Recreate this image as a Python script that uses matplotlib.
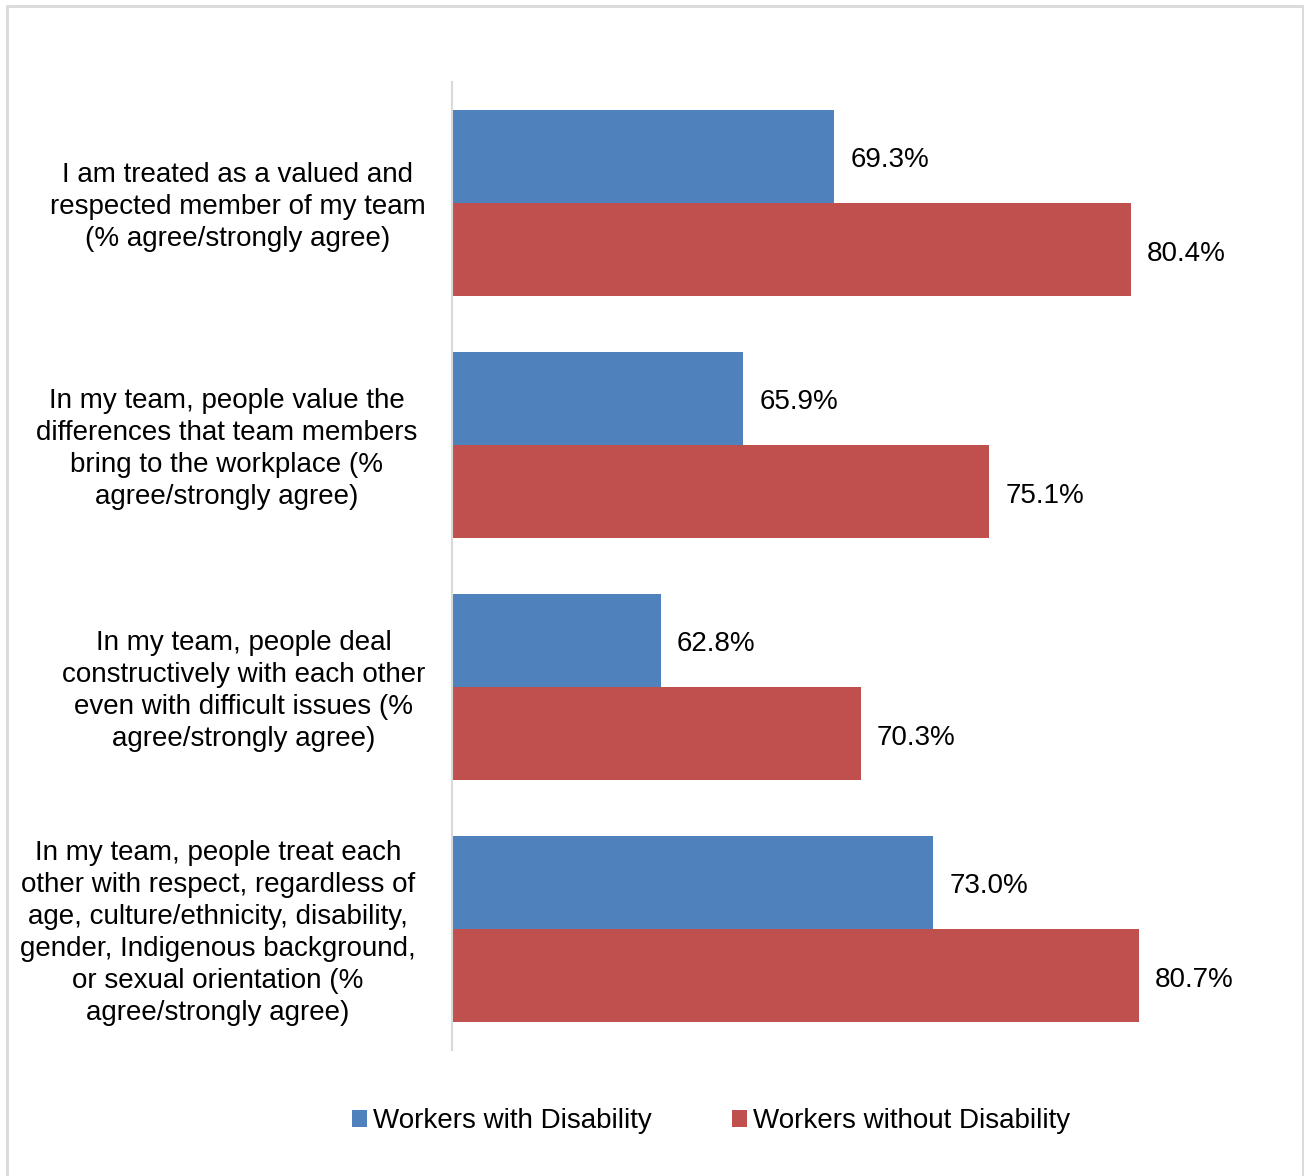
import matplotlib
matplotlib.use("Agg")
import matplotlib.pyplot as plt
from matplotlib.patches import Rectangle, Patch
import numpy as np

categories = [
    "I am treated as a valued and\nrespected member of my team\n(% agree/strongly agree)",
    "In my team, people value the\ndifferences that team members\nbring to the workplace (%\nagree/strongly agree)",
    "In my team, people deal\nconstructively with each other\neven with difficult issues (%\nagree/strongly agree)",
    "In my team, people treat each\nother with respect, regardless of\nage, culture/ethnicity, disability,\ngender, Indigenous background,\nor sexual orientation (%\nagree/strongly agree)",
]
series_names = ["Workers with Disability", "Workers without Disability"]
with_disability = [69.3, 65.9, 62.8, 73.0]
without_disability = [80.4, 75.1, 70.3, 80.7]
colors = ["#4F81BD", "#C0504D"]
# horizontal centres (pixels) of each wrapped category label
label_centres_px = [237.5, 226.5, 243.5, 218]

plt.rcParams['font.family'] = ['Liberation Sans', 'DejaVu Sans']

W, H = 1304, 1176
fig = plt.figure(figsize=(W / 100, H / 100), dpi=100)

# figure border
fig.patches.append(Rectangle((7 / W, -0.01), (1303 - 7) / W, 1 - 6 / H + 0.01,
                             transform=fig.transFigure, fill=False,
                             edgecolor="#d9d9d9", linewidth=2))

left, right = 452 / W, 1254 / W
top, bottom = 1 - 82 / H, 1 - 1050 / H
ax = fig.add_axes([left, bottom, right - left, top - bottom])

y = np.arange(len(categories))
h = 0.385
b1 = ax.barh(y - h / 2, with_disability, height=h, left=0, color=colors[0], label=series_names[0])
b2 = ax.barh(y + h / 2, without_disability, height=h, left=0, color=colors[1], label=series_names[1])

ax.set_xlim(55, 85)
ax.set_ylim(len(categories) - 0.5, -0.5)

for bars, vals in ((b1, with_disability), (b2, without_disability)):
    for rect, v in zip(bars, vals):
        ax.annotate(f"{v:.1f}%", xy=(v, rect.get_y() + rect.get_height() / 2),
                    xytext=(16, -1), textcoords="offset pixels",
                    ha="left", va="center_baseline", fontsize=20, color="black")

for s in ["top", "right", "bottom"]:
    ax.spines[s].set_visible(False)
ax.spines["left"].set_color("#d9d9d9")
ax.spines["left"].set_linewidth(1.5)
ax.set_xticks([])
ax.set_yticks([])

# category labels
for yi, lab, xc in zip(y, categories, label_centres_px):
    yfig = fig.transFigure.inverted().transform(ax.transData.transform((55, yi)))[1]
    fig.text(xc / W, yfig - 4 / H, lab, ha="center", va="center", fontsize=20,
             linespacing=1.31, multialignment="center")

handles = [Patch(facecolor=colors[0]), Patch(facecolor=colors[1])]
fig.legend(handles, series_names, loc="center", bbox_to_anchor=(711 / W, 1 - 1121 / H),
           ncol=2, frameon=False, fontsize=20, handlelength=0.55, handleheight=0.55,
           handletextpad=0.2, columnspacing=2.9)

fig.savefig("out.png", dpi=100)
